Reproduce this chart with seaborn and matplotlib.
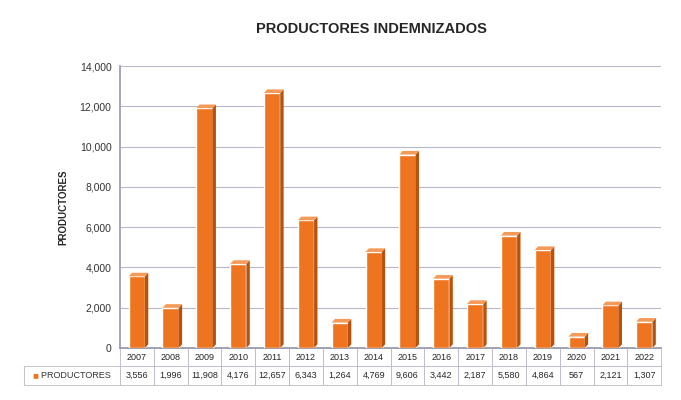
import matplotlib
matplotlib.use("Agg")
import matplotlib.pyplot as plt
import seaborn as sns
import pandas as pd
from matplotlib.patches import Polygon

years = ["2007", "2008", "2009", "2010", "2011", "2012", "2013", "2014",
         "2015", "2016", "2017", "2018", "2019", "2020", "2021", "2022"]
values = [3556, 1996, 11908, 4176, 12657, 6343, 1264, 4769,
          9606, 3442, 2187, 5580, 4864, 567, 2121, 1307]
series_name = "PRODUCTORES"
title = "PRODUCTORES INDEMNIZADOS"

df = pd.DataFrame({"year": years, "value": values})

sns.set_theme(style="white")
plt.rcParams['font.family'] = ['Liberation Sans', 'DejaVu Sans']

fig = plt.figure(figsize=(6.81, 4.0), dpi=100)
ax = fig.add_axes([0.176, 0.13, 0.795, 0.705])

front = "#EE7420"
side = "#B8520F"
top = "#F59A57"

sns.barplot(data=df, x="year", y="value", color=front, width=0.48,
            saturation=1, ax=ax, zorder=3)

dx, dy = 0.1, 180
for p in ax.patches[:len(values)]:
    x0, w, h = p.get_x(), p.get_width(), p.get_height()
    ax.add_patch(Polygon([(x0 + w, 0), (x0 + w + dx, dy), (x0 + w + dx, h + dy), (x0 + w, h)],
                         closed=True, facecolor=side, edgecolor="none", zorder=3))
    ax.add_patch(Polygon([(x0, h), (x0 + dx, h + dy), (x0 + w + dx, h + dy), (x0 + w, h)],
                         closed=True, facecolor=top, edgecolor="none", zorder=3))

ax.set_ylim(0, 14000)
ax.set_xlim(-0.5, len(years) - 0.5)
ax.set_yticks(range(0, 14001, 2000))
ax.set_yticklabels([f"{v:,}" for v in range(0, 14001, 2000)], fontsize=7.5, color="#333333")
ax.yaxis.grid(True, color="#B8B8CC", linewidth=0.8, zorder=0)
ax.set_xticks([])
ax.set_xlabel("")
ax.set_ylabel("PRODUCTORES", fontsize=7, fontweight="bold", labelpad=8)
for s in ["top", "right"]:
    ax.spines[s].set_visible(False)
ax.spines["left"].set_color("#9A9AB0")
ax.spines["bottom"].set_color("#9A9AB0")
ax.tick_params(axis="y", length=0, pad=6)

fig.suptitle(title, x=0.545, y=0.945, fontsize=10.5, fontweight="bold")

# data table
tbl = ax.table(cellText=[[f"{v:,}" for v in values]],
               colLabels=years,
               rowLabels=["    " + series_name],
               cellLoc="center", rowLoc="right",
               bbox=[0, -0.13, 1, 0.13])
tbl.auto_set_font_size(False)
tbl.set_fontsize(6.5)
for (r, c), cell in tbl.get_celld().items():
    cell.set_edgecolor("#B8B8CC")
    cell.set_linewidth(0.6)
    if c == -1:
        cell.get_text().set_color("#333333")
# colored marker for row label
fig.text(0.047, 0.0625, "■", color=front, fontsize=7, va="center")

fig.savefig("out.png", dpi=100)
